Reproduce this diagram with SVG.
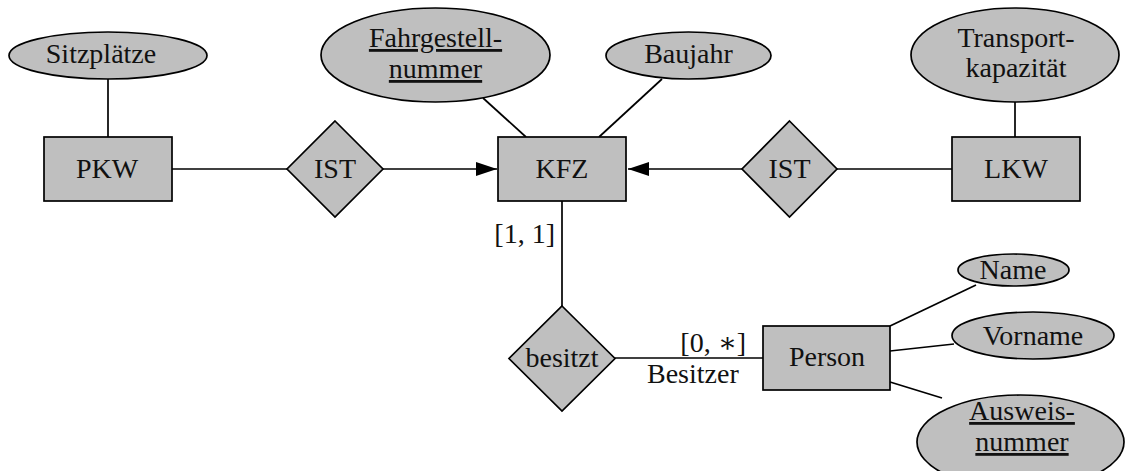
<svg xmlns="http://www.w3.org/2000/svg" width="1125" height="471" viewBox="0 0 1125 471" font-family="'Liberation Serif', Tinos, 'Nimbus Roman', 'Noto Serif', 'DejaVu Serif', 'Times New Roman', Times, serif">
<style>
  .shape { fill: #bfbfbf; stroke: #000; stroke-width: 1.7; }
  .conn { stroke: #000; stroke-width: 1.7; fill: none; }
  .t { font-family: 'Liberation Serif', Tinos, 'Nimbus Roman', 'Noto Serif', 'DejaVu Serif', 'Times New Roman', Times, serif; font-size: 28px; fill: #111; }
  .c { text-anchor: middle; }
  .r { text-anchor: end; }
  .u { text-decoration: underline; }
</style>
<defs>
  <marker id="arrow" viewBox="0 0 21 14" refX="21" refY="7" markerWidth="21" markerHeight="14" markerUnits="userSpaceOnUse" orient="auto">
    <path d="M0,0 L21,7 L0,14 Z" fill="#000"/>
  </marker>
</defs>
<rect width="1125" height="471" fill="#fff"/>
<g id="connectors">
  <line class="conn" x1="108" y1="79" x2="108" y2="137"/>
  <line class="conn" x1="172" y1="169" x2="287" y2="169"/>
  <line class="conn" x1="383" y1="169" x2="497" y2="169" marker-end="url(#arrow)"/>
  <line class="conn" x1="742" y1="169" x2="628" y2="169" marker-end="url(#arrow)"/>
  <line class="conn" x1="837" y1="169" x2="952" y2="169"/>
  <line class="conn" x1="1015" y1="102" x2="1015" y2="137"/>
  <line class="conn" x1="483" y1="98" x2="526" y2="137"/>
  <line class="conn" x1="662" y1="79" x2="599" y2="137"/>
  <line class="conn" x1="562" y1="201" x2="562" y2="306"/>
  <line class="conn" x1="615" y1="358" x2="763" y2="358"/>
  <line class="conn" x1="890" y1="326" x2="976" y2="285"/>
  <line class="conn" x1="890" y1="351" x2="954" y2="344"/>
  <line class="conn" x1="890" y1="382" x2="942" y2="398"/>
  <text class="t r" x="555" y="243">[1, 1]</text>
  <text class="t r" x="746" y="352">[0, ∗]</text>
  <text class="t" x="647" y="383">Besitzer</text>
</g>
<g id="sitzplaetze">
  <ellipse class="shape" cx="108" cy="55.5" rx="99" ry="23.5"/>
  <text class="t c" x="101" y="63">Sitzplätze</text>
</g>
<g id="pkw">
  <rect class="shape" x="44" y="137" width="128" height="64"/>
  <text class="t c" x="107" y="178">PKW</text>
</g>
<g id="ist1">
  <polygon class="shape" points="335,121 383,169 335,217 287,169"/>
  <text class="t c" x="335" y="178">IST</text>
</g>
<g id="fahrgestellnummer">
  <ellipse class="shape" cx="435.5" cy="55" rx="114.5" ry="47"/>
  <text class="t c u" x="435.5" y="47">Fahrgestell-</text>
  <text class="t c u" x="435.5" y="78">nummer</text>
</g>
<g id="baujahr">
  <ellipse class="shape" cx="688.5" cy="55.5" rx="82.5" ry="23.5"/>
  <text class="t c" x="688.5" y="63">Baujahr</text>
</g>
<g id="kfz">
  <rect class="shape" x="498" y="137" width="128" height="64"/>
  <text class="t c" x="562" y="178">KFZ</text>
</g>
<g id="ist2">
  <polygon class="shape" points="789.5,121 837,169 789.5,217 742,169"/>
  <text class="t c" x="789.5" y="178">IST</text>
</g>
<g id="transportkapazitaet">
  <ellipse class="shape" cx="1015" cy="55" rx="104" ry="47"/>
  <text class="t c" x="1016" y="47">Transport-</text>
  <text class="t c" x="1016" y="77">kapazität</text>
</g>
<g id="lkw">
  <rect class="shape" x="952" y="137" width="128" height="64"/>
  <text class="t c" x="1016" y="178">LKW</text>
</g>
<g id="besitzt">
  <polygon class="shape" points="562,306 615,358.5 562,411 509,358.5"/>
  <text class="t c" x="562" y="367">besitzt</text>
</g>
<g id="person">
  <rect class="shape" x="763" y="326" width="127" height="64"/>
  <text class="t c" x="827" y="366">Person</text>
</g>
<g id="name">
  <ellipse class="shape" cx="1013.5" cy="270" rx="55.5" ry="16"/>
  <text class="t c" x="1013" y="279">Name</text>
</g>
<g id="vorname">
  <ellipse class="shape" cx="1033" cy="335.5" rx="81" ry="23.5"/>
  <text class="t c" x="1033" y="345">Vorname</text>
</g>
<g id="ausweisnummer">
  <ellipse class="shape" cx="1020.5" cy="442" rx="103.5" ry="47"/>
  <text class="t c u" x="1022" y="420">Ausweis-</text>
  <text class="t c u" x="1022" y="451">nummer</text>
</g>
</svg>
